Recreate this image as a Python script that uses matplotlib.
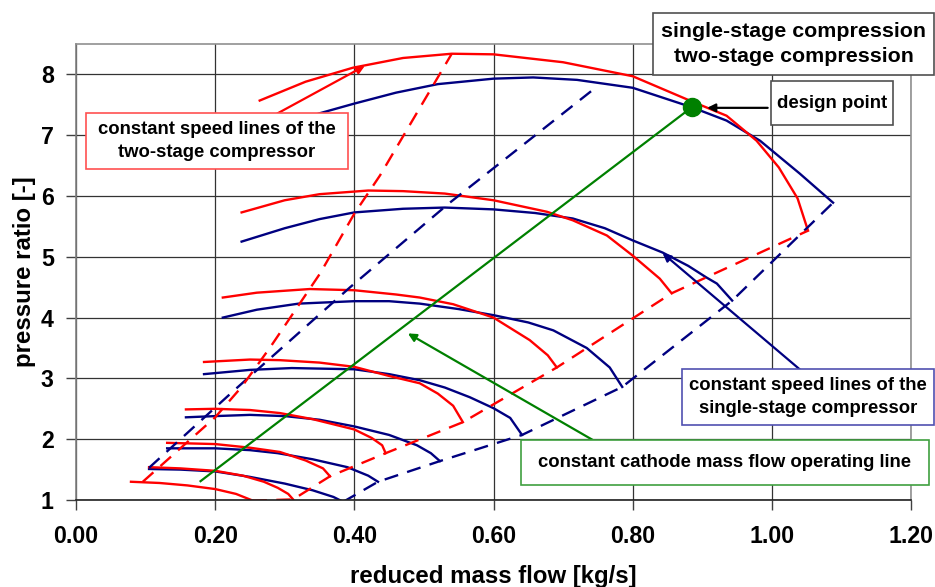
import matplotlib.pyplot as plt
from matplotlib.patches import Rectangle

plt.rcParams['font.family'] = ['Liberation Sans', 'DejaVu Sans']
plt.rcParams['font.weight'] = 'bold'

NAVY = '#000080'
RED = '#ff0000'
GREEN = '#008000'

# constant speed lines, single-stage compressor
single_x = [
    [0.105, 0.15, 0.20, 0.25, 0.30, 0.34, 0.37, 0.384],
    [0.131, 0.20, 0.25, 0.29, 0.34, 0.39, 0.42, 0.434],
    [0.158, 0.20, 0.25, 0.30, 0.35, 0.40, 0.45, 0.49, 0.51, 0.523],
    [0.184, 0.25, 0.31, 0.40, 0.45, 0.494, 0.53, 0.566, 0.60, 0.624, 0.641],
    [0.211, 0.26, 0.32, 0.40, 0.45, 0.494, 0.55, 0.60, 0.65, 0.686, 0.734, 0.767, 0.785],
    [0.238, 0.30, 0.35, 0.40, 0.47, 0.53, 0.60, 0.66, 0.714, 0.76, 0.80, 0.843, 0.88, 0.906, 0.921, 0.943],
    [0.30, 0.35, 0.40, 0.46, 0.52, 0.60, 0.657, 0.72, 0.80, 0.885, 0.935, 0.983, 1.04, 1.088],
]
single_y = [
    [1.51, 1.50, 1.47, 1.38, 1.27, 1.16, 1.05, 0.97],
    [1.85, 1.85, 1.82, 1.77, 1.67, 1.54, 1.40, 1.30],
    [2.36, 2.38, 2.40, 2.38, 2.32, 2.21, 2.07, 1.90, 1.77, 1.64],
    [3.07, 3.14, 3.17, 3.15, 3.07, 2.97, 2.85, 2.69, 2.51, 2.35, 2.07],
    [4.00, 4.13, 4.23, 4.27, 4.27, 4.23, 4.14, 4.04, 3.92, 3.79, 3.50, 3.18, 2.86],
    [5.25, 5.47, 5.62, 5.73, 5.79, 5.81, 5.78, 5.72, 5.63, 5.47, 5.27, 5.07, 4.85, 4.66, 4.56, 4.28],
    [7.15, 7.36, 7.52, 7.70, 7.84, 7.93, 7.95, 7.91, 7.78, 7.46, 7.24, 6.91, 6.37, 5.89],
]

# constant speed lines, two-stage compressor
two_x = [
    [0.079, 0.12, 0.16, 0.20, 0.23, 0.254],
    [0.105, 0.15, 0.20, 0.24, 0.27, 0.29, 0.305, 0.312],
    [0.131, 0.20, 0.25, 0.293, 0.33, 0.355, 0.365],
    [0.158, 0.20, 0.25, 0.293, 0.34, 0.40, 0.425, 0.44, 0.445],
    [0.184, 0.25, 0.293, 0.35, 0.40, 0.45, 0.494, 0.52, 0.542, 0.556],
    [0.211, 0.26, 0.336, 0.40, 0.46, 0.494, 0.542, 0.60, 0.652, 0.678, 0.691],
    [0.238, 0.30, 0.35, 0.42, 0.47, 0.53, 0.60, 0.677, 0.714, 0.763, 0.80, 0.839, 0.856],
    [0.264, 0.33, 0.398, 0.47, 0.54, 0.60, 0.70, 0.80, 0.882, 0.935, 0.978, 1.01, 1.037, 1.052],
]
two_y = [
    [1.30, 1.28, 1.24, 1.18, 1.10, 0.99],
    [1.54, 1.52, 1.48, 1.40, 1.30, 1.20, 1.10, 1.01],
    [1.94, 1.92, 1.86, 1.79, 1.65, 1.52, 1.39],
    [2.49, 2.50, 2.48, 2.43, 2.33, 2.16, 2.02, 1.90, 1.77],
    [3.27, 3.31, 3.30, 3.26, 3.19, 3.04, 2.92, 2.75, 2.55, 2.28],
    [4.33, 4.41, 4.47, 4.45, 4.38, 4.33, 4.22, 4.00, 3.63, 3.38, 3.18],
    [5.73, 5.93, 6.03, 6.09, 6.08, 6.04, 5.93, 5.74, 5.60, 5.35, 5.02, 4.64, 4.40],
    [7.57, 7.88, 8.11, 8.27, 8.34, 8.33, 8.20, 7.97, 7.57, 7.32, 6.91, 6.47, 5.96, 5.43],
]

# surge lines
single_surge_x = [0.105, 0.224, 0.394, 0.535, 0.741]
single_surge_y = [1.53, 2.77, 4.50, 5.87, 7.73]
two_surge_x = [0.096, 0.20, 0.238, 0.279, 0.351, 0.40, 0.437, 0.54]
two_surge_y = [1.30, 2.36, 2.86, 3.51, 4.73, 5.71, 6.34, 8.34]

# operating line and design point
op_x = [0.179, 0.885]
op_y = [1.31, 7.46]
design_x = 0.885
design_y = 7.46

xticks = [0.0, 0.2, 0.4, 0.6, 0.8, 1.0, 1.2]
yticks = [1, 2, 3, 4, 5, 6, 7, 8]

W, H = 935, 587
fig = plt.figure(figsize=(W / 100, H / 100), dpi=100)
ax = fig.add_axes([76 / W, 1 - 500 / H, 835 / W, 456 / H])

dash = (0, (6, 4))
for x, y in zip(single_x, single_y):
    ax.plot(x, y, color=NAVY, lw=1.7)
for x, y in zip(two_x, two_y):
    ax.plot(x, y, color=RED, lw=1.7)

# choke lines join the ends of the speed lines
ax.plot([x[-1] for x in single_x], [y[-1] for y in single_y], color=NAVY, lw=1.7, ls=dash)
ax.plot([x[-1] for x in two_x], [y[-1] for y in two_y], color=RED, lw=1.7, ls=dash)
ax.plot(single_surge_x, single_surge_y, color=NAVY, lw=1.7, ls=dash)
ax.plot(two_surge_x, two_surge_y, color=RED, lw=1.7, ls=dash)

ax.plot(op_x, op_y, color=GREEN, lw=1.6)
ax.plot(design_x, design_y, 'o', color=GREEN, ms=13, zorder=5)

ax.set_xlim(0, 1.2)
ax.set_ylim(1, 8.5)
ax.set_xticks(xticks)
ax.set_xticklabels(['%.2f' % v for v in xticks])
ax.set_yticks(yticks)
ax.tick_params(labelsize=16.7, length=7, width=1, color='#404040')
ax.tick_params(axis='x', pad=11)
ax.tick_params(axis='y', pad=9)
ax.grid(True, color='#333333', lw=0.9)
for s in ['top', 'right']:
    ax.spines[s].set_color('#909090')
ax.spines['left'].set_color('#808080')
ax.spines['bottom'].set_color('#202020')
for s in ax.spines.values():
    s.set_linewidth(1.2)

ax.set_xlabel('reduced mass flow [kg/s]', fontsize=17.3, fontweight='bold')
ax.set_ylabel('pressure ratio [-]', fontsize=17.3, fontweight='bold')
ax.xaxis.set_label_coords(0.5, -0.143)
ax.yaxis.set_label_coords(-0.048, 0.5)

# arrows
arr = dict(arrowstyle='-|>', lw=1.6, mutation_scale=12, shrinkA=0, shrinkB=0)
ax.annotate('', xy=(0.907, 7.45), xytext=(0.994, 7.45),
            arrowprops=dict(arr, color='black'), annotation_clip=False)
ax.annotate('', xy=(0.415, 8.14), xytext=(0.289, 7.355),
            arrowprops=dict(arr, color=RED), annotation_clip=False)
ax.annotate('', xy=(0.843, 5.06), xytext=(1.040, 3.15),
            arrowprops=dict(arr, color=NAVY), annotation_clip=False)
ax.annotate('', xy=(0.477, 3.74), xytext=(0.743, 1.985),
            arrowprops=dict(arr, color=GREEN), annotation_clip=False)


def box(x0, y0, x1, y1, ec, text, fs, ls=1.3):
    fig.add_artist(Rectangle((x0 / W, 1 - y1 / H), (x1 - x0) / W, (y1 - y0) / H,
                             transform=fig.transFigure, fc='white', ec=ec, lw=1.2, zorder=5))
    fig.text((x0 + x1) / 2 / W, 1 - (y0 + y1) / 2 / H, text, ha='center', va='center',
             fontsize=fs, fontweight='bold', linespacing=ls, zorder=6)


box(653, 13, 934, 75, '#505050', 'single-stage compression\ntwo-stage compression', 15.4, 1.45)
box(771, 81, 893, 125, '#505050', 'design point', 13.4)
box(86, 113, 348, 169, '#ff5050', 'constant speed lines of the\ntwo-stage compressor', 13.3, 1.45)
box(682, 369, 934, 425, '#5050b0', 'constant speed lines of the\nsingle-stage compressor', 13.3, 1.45)
box(521, 440, 929, 485, '#40a040', 'constant cathode mass flow operating line', 13.3)

fig.savefig('out.png', dpi=100)
